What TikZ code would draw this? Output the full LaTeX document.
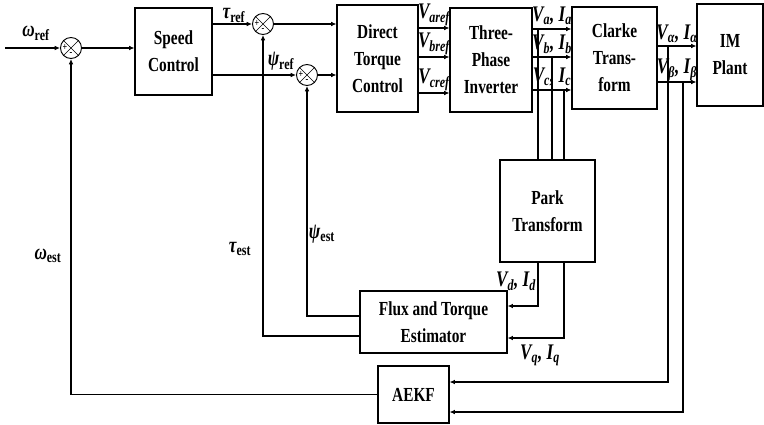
\documentclass[tikz,border=0pt]{standalone}
\usepackage{fontspec}
\setmainfont{Liberation Serif}[FakeStretch=0.77]
\usetikzlibrary{arrows.meta,positioning,calc}
\newcommand{\sg}[2]{#1\textsubscript{#2}}

\begin{document}
\begin{tikzpicture}[
		x=0.03cm, y=-0.03cm,
		every node/.style={align=center},
		blk/.style={rectangle, draw, line width=0.9pt, inner sep=2pt,
				font=\fontsize{17}{23}\selectfont\bfseries},
		sumjn/.style={circle, draw, line width=0.8pt, minimum size=6.3mm,
				inner sep=0pt},
		sgn/.style={font=\fontsize{9}{9}\selectfont\bfseries, inner sep=0pt},
		sig/.style={font=\fontsize{19}{20}\selectfont\bfseries\itshape,
				inner sep=0pt},
		arr/.style={-{Latex[length=1.6mm,width=1.4mm]}, line width=1.2pt},
		wire/.style={line width=1.2pt},
		]
		\useasboundingbox (0,0) rectangle (764,425);

		% Blocks
		\node[blk, minimum width=2.31cm, minimum height=2.61cm] (spd)  at (173.5,51.5) {Speed\\Control};
		\node[blk, minimum width=2.43cm, minimum height=3.21cm] (dtc)  at (377.5,58.5) {Direct\\Torque\\Control};
		\node[blk, minimum width=2.46cm, minimum height=3.12cm] (inv)  at (491,60)     {Three-\\Phase\\Inverter};
		\node[blk, minimum width=2.55cm, minimum height=3.06cm] (clk)  at (614.5,58)   {Clarke\\Trans-\\form};
		\node[blk, minimum width=1.98cm, minimum height=3.06cm] (im)   at (730,55)     {IM\\Plant};
		\node[blk, minimum width=2.85cm, minimum height=3.06cm] (park) at (547.5,211)  {Park\\Transform};
		\node[blk, minimum width=4.41cm, minimum height=1.86cm] (est)  at (433.5,322)  {Flux and Torque\\Estimator};
		\node[blk, minimum width=2.13cm, minimum height=1.71cm] (aekf) at (413.5,394.5) {AEKF};

		% Summing junctions
		\node[sumjn] (s1) at (71,48)  {};
		\node[sumjn] (s2) at (263,24) {};
		\node[sumjn] (s3) at (307,75) {};
		\foreach \s in {s1,s2,s3} {
				\draw[line width=0.5pt] (\s.north west) -- (\s.south east)
				(\s.north east) -- (\s.south west);
				\node[sgn] (\s-p) at ($(\s)+(-6,0)$) {+};
				\node[sgn] (\s-m) at ($(\s)+(0,6)$)  {-};
			}

		% Speed loop
		\coordinate (win) at (5,48);
		\draw[arr] (win) -- (s1.west);
		\node[sig] (wref) at (36,33) {\sg{ω}{\upshape ref}};
		\draw[arr] (s1.east) -- (s1.east -| spd.west);

		% References to DTC
		\draw[arr] (spd.east |- s2) -- (s2.west);
		\node[sig] (tref) at (234,15) {\sg{τ}{\upshape ref}};
		\draw[arr] (spd.east |- s3) -- (s3.west);
		\node[sig] (pref) at (281,61) {\sg{ψ}{\upshape ref}};
		\draw[arr] (s2.east) -- (s2.east -| dtc.west);
		\draw[arr] (s3.east) -- (s3.east -| dtc.west);

		% DTC -> inverter
		\foreach \yy/\ph in {28/a,57/b,93/c} {
				\draw[arr] (dtc.east |- 0,\yy) -- (inv.west |- 0,\yy);
				\node[sig] (vref-\ph) at (434,\yy-13) {\sg{V}{\ph ref}};
			}

		% Inverter -> Clarke, taps to Park
		\foreach \yy/\ph/\xt in {29/a/538,57/b/552,90/c/564} {
				\draw[arr] (inv.east |- 0,\yy) -- (clk.west |- 0,\yy);
				\coordinate (tap-\ph) at (\xt,\yy);
				\draw[wire] (tap-\ph) -- (park.north -| tap-\ph);
				\node[sig] (vi-\ph) at (552,\yy-13) {\sg{V}{\ph}, \sg{I}{\ph}};
			}

		% Clarke -> plant, taps to AEKF
		\draw[arr] (clk.east |- 0,46) -- (im.west |- 0,46);
		\draw[arr] (clk.east |- 0,82) -- (im.west |- 0,82);
		\node[sig] (val) at (677,34) {\sg{V}{α}, \sg{I}{α}};
		\node[sig] (vbe) at (677,70) {\sg{V}{β}, \sg{I}{β}};
		\coordinate (tal) at (668,46);
		\coordinate (tbe) at (683,82);
		\draw[arr] (tal) |- (aekf.east |- 0,382);
		\draw[arr] (tbe) |- (aekf.east |- 0,412);

		% Park -> estimator
		\draw[arr] (park.south -| tap-a) |- (est.east |- 0,306);
		\draw[arr] (park.south -| tap-c) |- (est.east |- 0,338);
		\node[sig] (vd) at (516,281) {\sg{V}{d}, \sg{I}{d}};
		\node[sig] (vq) at (540,355) {\sg{V}{q}, \sg{I}{q}};

		% Feedback
		\draw[arr] (est.west |- 0,316) -| (s3.south);
		\draw[arr] (est.west |- 0,336) -| (s2.south);
		\node[sig] (pest) at (322,234) {\sg{ψ}{\upshape est}};
		\node[sig] (test) at (240,249) {\sg{τ}{\upshape est}};
		\draw[arr] (aekf.west) -| (s1.south);
		\node[sig] (west) at (48,256) {\sg{ω}{\upshape est}};

	\end{tikzpicture}
\end{document}
